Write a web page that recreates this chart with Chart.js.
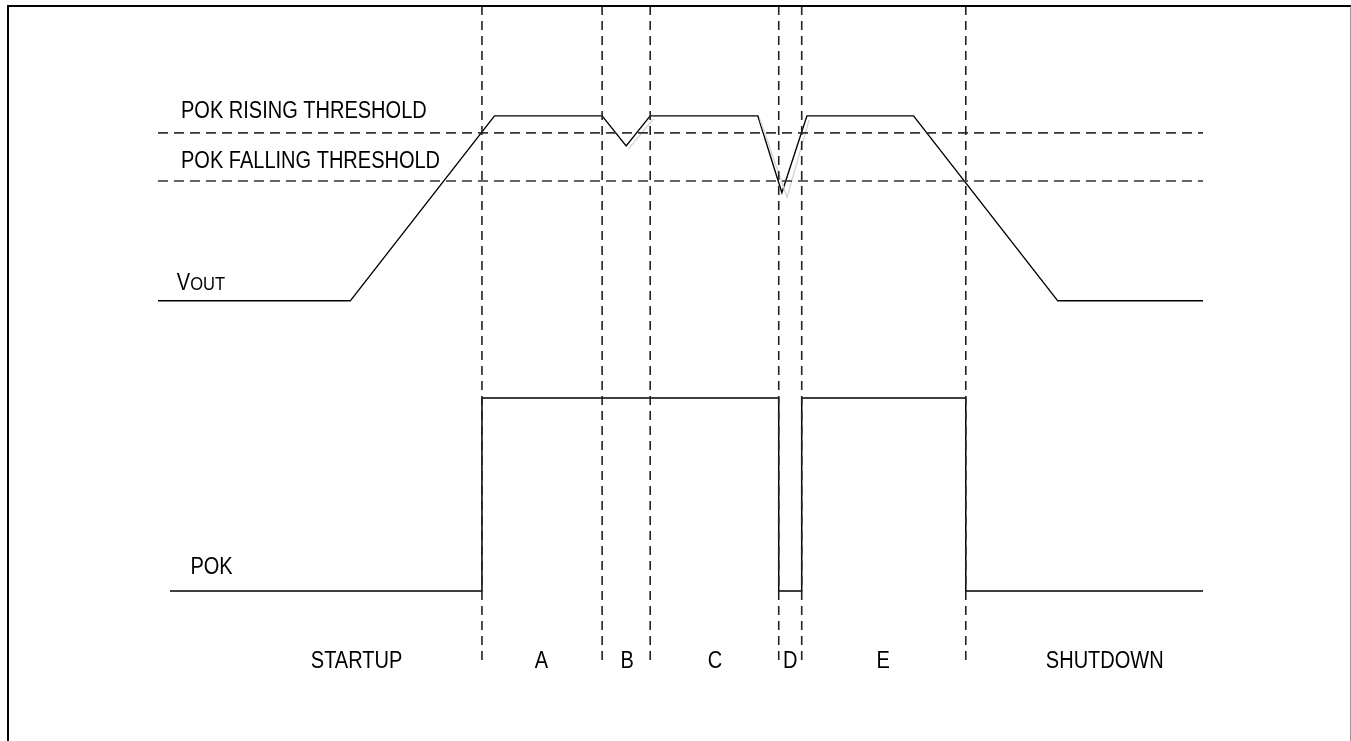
<!DOCTYPE html>
<html>
<head>
<meta charset="utf-8">
<script src="https://cdn.jsdelivr.net/npm/chart.js@4/dist/chart.umd.min.js"></script>
<style>
    html, body { margin: 0; padding: 0; background: #fff; }
    #wrap { position: relative; width: 1351px; height: 741px; }
    #frame {
        position: absolute; left: 7px; top: 5px; width: 1341px; height: 740px;
        border-top: 2px solid #000; border-left: 2px solid #000; border-right: 2px solid #999;
    }
</style>
</head>
<body>
<div id="wrap">
    <div id="frame"></div>
    <canvas id="timingChart"></canvas>
</div>
<script>
// time axis: 0..100 (arbitrary units), VOUT in volts, POK as logic level
const voutTime = [0, 18.4, 32.2, 42.5, 44.8, 47.1, 57.4, 59.7, 62.1, 72.3, 86.1, 100];
const voutLevel = [0, 0, 5, 5, 4.19, 5, 5, 2.92, 5, 5, 0, 0];

// faint ghost trace next to the two dips
const ghostTime = [45.0, 47.4, null, 57.6, 60.2, 62.3];
const ghostLevel = [4.10, 4.91, null, 4.91, 2.80, 4.89];

const pokTime = [1.15, 31.0, 31.0, 59.4, 59.4, 61.6, 61.6, 77.3, 77.3, 100];
const pokLevel = [0, 0, 1, 1, 0, 0, 1, 1, 0, 0];

const risingThreshold = 4.54;
const fallingThreshold = 3.24;

const phaseEdges = [31.0, 42.5, 47.1, 59.4, 61.6, 77.3];
const phaseNames = ['STARTUP', 'A', 'B', 'C', 'D', 'E', 'SHUTDOWN'];
const phaseCenters = [19.0, 36.7, 44.9, 53.3, 60.5, 69.4, 90.6];

const V_MIN = -11.9, V_MAX = 7.97;
const EDGE_BOTTOM = -9.78;

function pts(xs, ys) {
    return xs.map((x, i) => (x === null ? { x: null, y: null } : { x: x, y: ys[i] }));
}

const edgeData = [];
phaseEdges.forEach(t => {
    edgeData.push({ x: t, y: V_MAX }, { x: t, y: EDGE_BOTTOM }, { x: null, y: null });
});

const labelPlugin = {
    id: 'labels',
    afterDatasetsDraw(chart) {
        const ctx = chart.ctx;
        const xs = chart.scales.x;
        const ys = chart.scales.y;
        const yp = chart.scales.y2;
        const squeeze = 0.87;

        function text(str, px, py, size, align) {
            ctx.save();
            ctx.font = size + 'px "Liberation Sans", Arial, sans-serif';
            ctx.fillStyle = '#000';
            ctx.textBaseline = 'alphabetic';
            ctx.textAlign = align;
            ctx.translate(px, py);
            ctx.scale(squeeze, 1);
            ctx.fillText(str, 0, 0);
            ctx.restore();
        }

        text('POK RISING THRESHOLD', xs.getPixelForValue(2.2), ys.getPixelForValue(4.94), 23, 'left');
        text('POK FALLING THRESHOLD', xs.getPixelForValue(2.2), ys.getPixelForValue(3.59), 23, 'left');

        // VOUT with small-caps subscript look
        const vx = xs.getPixelForValue(1.8);
        const vy = ys.getPixelForValue(0.30);
        text('V', vx, vy, 23, 'left');
        ctx.save();
        ctx.font = '23px "Liberation Sans", Arial, sans-serif';
        const vw = ctx.measureText('V').width * squeeze;
        ctx.restore();
        text('OUT', vx + vw, vy, 19, 'left');

        text('POK', xs.getPixelForValue(3.1), yp.getPixelForValue(0.088), 23, 'left');

        phaseNames.forEach((name, i) => {
            text(name, xs.getPixelForValue(phaseCenters[i]), ys.getPixelForValue(-9.92), 23, 'center');
        });
    }
};

const ctx = document.getElementById('timingChart').getContext('2d');
const chart = new Chart(ctx, {
    type: 'scatter',
    data: {
        datasets: [
            {
                label: 'phase edges',
                data: edgeData,
                showLine: true,
                spanGaps: false,
                borderColor: '#222',
                borderWidth: 1.6,
                borderDash: [9, 6],
                pointRadius: 0,
                yAxisID: 'y'
            },
            {
                label: 'rising threshold',
                data: [{ x: 0, y: risingThreshold }, { x: 100, y: risingThreshold }],
                showLine: true,
                borderColor: '#333',
                borderWidth: 1.6,
                borderDash: [10, 6],
                pointRadius: 0,
                yAxisID: 'y'
            },
            {
                label: 'falling threshold',
                data: [{ x: 0, y: fallingThreshold }, { x: 100, y: fallingThreshold }],
                showLine: true,
                borderColor: '#333',
                borderWidth: 1.6,
                borderDash: [10, 6],
                pointRadius: 0,
                yAxisID: 'y'
            },
            {
                label: 'ghost',
                data: pts(ghostTime, ghostLevel),
                showLine: true,
                spanGaps: false,
                borderColor: '#d4d4d4',
                borderWidth: 1.3,
                pointRadius: 0,
                yAxisID: 'y'
            },
            {
                label: 'VOUT',
                data: pts(voutTime, voutLevel),
                showLine: true,
                borderColor: '#000',
                borderWidth: 1.4,
                pointRadius: 0,
                tension: 0,
                yAxisID: 'y'
            },
            {
                label: 'POK',
                data: pts(pokTime, pokLevel),
                showLine: true,
                borderColor: '#000',
                borderWidth: 1.5,
                pointRadius: 0,
                tension: 0,
                yAxisID: 'y2'
            }
        ]
    },
    options: {
        responsive: true,
        maintainAspectRatio: false,
        animation: false,
        layout: {
            padding: { left: 158, right: 148, top: 6, bottom: 0 }
        },
        plugins: {
            legend: { display: false },
            tooltip: { enabled: false }
        },
        scales: {
            x: { type: 'linear', min: 0, max: 100, display: false },
            y: { type: 'linear', min: V_MIN, max: V_MAX, display: false },
            y2: { type: 'linear', min: -0.777, max: 3.031, display: false }
        }
    },
    plugins: [labelPlugin]
});
</script>
</body>
</html>
